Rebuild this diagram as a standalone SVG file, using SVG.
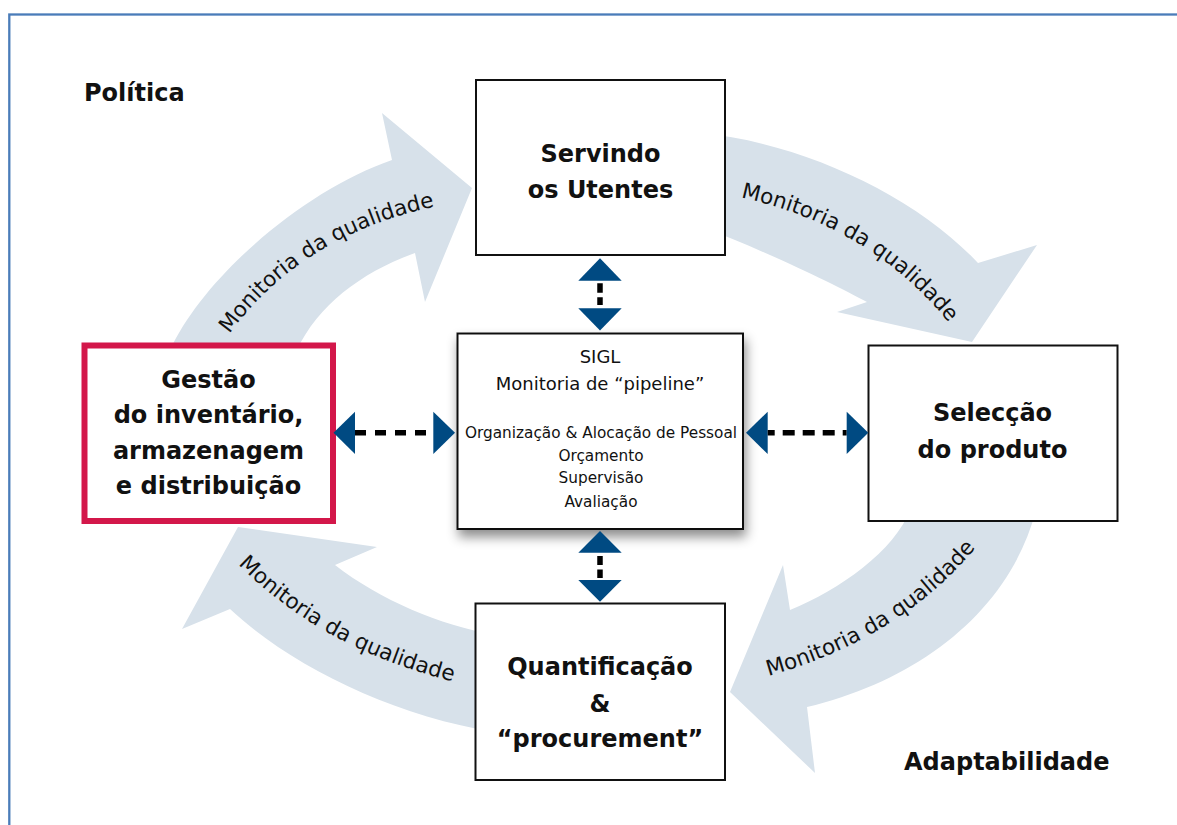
<svg xmlns="http://www.w3.org/2000/svg" width="1177" height="825" viewBox="0 0 1177 825">
<defs>
<style>
.band{fill:#d7e1ea}
.lbl{font-family:"DejaVu Sans",sans-serif;font-size:21.5px;fill:#111}
.box{fill:#fff;stroke:#111;stroke-width:2}
.bt{font-family:"DejaVu Sans",sans-serif;font-weight:bold;font-size:24px;fill:#111;text-anchor:middle}
.tt{font-family:"DejaVu Sans",sans-serif;font-weight:bold;font-size:24px;fill:#111}
.ct{font-family:"DejaVu Sans",sans-serif;font-size:15.3px;fill:#111;text-anchor:middle}
.ct2{font-family:"DejaVu Sans",sans-serif;font-size:18px;fill:#111;text-anchor:middle}
.tri{fill:#004a82}
.dash{stroke:#000;stroke-width:5.5;fill:none}
</style>
<filter id="sh" x="-20%" y="-20%" width="140%" height="160%">
<feDropShadow dx="2" dy="7" stdDeviation="6" flood-color="#000" flood-opacity="0.45"/>
</filter>
<path id="pTL" d="M 228,336 Q 300,235 437,206"/>
<path id="pTR" d="M 739,197 Q 870,225 950,324"/>
<path id="pBR" d="M 765,677 Q 900,640 978,545"/>
<path id="pBL" d="M 233,559 Q 320,650 460,683"/>
</defs>
<rect x="9.3" y="14.5" width="1200" height="900" fill="none" stroke="#4a7cb9" stroke-width="2.3"/>

<g id="cycle-arrows">
<path class="band" d="M 170,350 C 205,275 305,190 392,160 L 382,113 L 472,188 L 425,302 L 415,253 C 362,272 318,305 297,350 Z"/>
<path class="band" d="M 700,133 C 800,142 915,195 978,263 L 1037,245 L 972,342 L 837,312 L 867,302 C 835,285 775,255 700,226 Z"/>
<path class="band" d="M 1036,510 C 1010,610 920,680 807,707 L 815,773 L 730,692 L 783,565 L 790,610 C 840,590 895,550 910,510 Z"/>
<path class="band" d="M 495,635 C 440,625 380,600 335,565 L 377,547 L 238,527 L 182,629 L 230,609 C 290,665 390,715 495,732 Z"/>
<text class="lbl"><textPath href="#pTL" startOffset="50%" text-anchor="middle">Monitoria da qualidade</textPath></text>
<text class="lbl"><textPath href="#pTR" startOffset="50%" text-anchor="middle">Monitoria da qualidade</textPath></text>
<text class="lbl"><textPath href="#pBR" startOffset="50%" text-anchor="middle">Monitoria da qualidade</textPath></text>
<text class="lbl"><textPath href="#pBL" startOffset="50%" text-anchor="middle">Monitoria da qualidade</textPath></text>
</g>

<g id="label-politica"><text class="tt" x="84" y="101">Política</text></g>
<g id="label-adaptabilidade"><text class="tt" x="904" y="770">Adaptabilidade</text></g>

<g id="node-servindo">
<rect class="box" x="476" y="80" width="249" height="175"/>
<text class="bt" x="600.5" y="162">Servindo</text>
<text class="bt" x="600.5" y="198">os Utentes</text>
</g>

<g id="node-gestao">
<rect x="84.5" y="345.5" width="248.5" height="175.5" fill="#fff" stroke="#d3174a" stroke-width="6"/>
<text class="bt" x="208.5" y="388">Gestão</text>
<text class="bt" x="208.5" y="423.3">do inventário,</text>
<text class="bt" x="208.5" y="458.6">armazenagem</text>
<text class="bt" x="208.5" y="494">e distribuição</text>
</g>

<g id="node-centro">
<rect class="box" x="457.5" y="333.5" width="285.5" height="195.5" filter="url(#sh)"/>
<text class="ct2" x="600" y="363">SIGL</text>
<text class="ct2" x="600" y="390">Monitoria de “pipeline”</text>
<text class="ct" x="601" y="438">Organização &amp; Alocação de Pessoal</text>
<text class="ct" x="601" y="460.7">Orçamento</text>
<text class="ct" x="601" y="483.3">Supervisão</text>
<text class="ct" x="601" y="506.5">Avaliação</text>
</g>

<g id="node-seleccao">
<rect class="box" x="868.5" y="345.5" width="249" height="175.5"/>
<text class="bt" x="992.5" y="421">Selecção</text>
<text class="bt" x="992.5" y="457.5">do produto</text>
</g>

<g id="node-quantificacao">
<rect class="box" x="475.5" y="603.5" width="249.5" height="176.5"/>
<text class="bt" x="600" y="675">Quantificação</text>
<text class="bt" x="600" y="711.5">&amp;</text>
<text class="bt" x="600" y="746.5">“procurement”</text>
</g>

<g id="connectors">
<g id="conn-top">
<polygon class="tri" points="600,258.3 621.7,280.7 578.3,280.7"/>
<line class="dash" x1="600" y1="283.3" x2="600" y2="305" stroke-dasharray="9.4 4.6"/>
<polygon class="tri" points="578.3,308.3 621.7,308.3 600,330.5"/>
</g>
<g id="conn-bottom">
<polygon class="tri" points="600,531 621.7,552.7 578.3,552.7"/>
<line class="dash" x1="600" y1="556" x2="600" y2="578" stroke-dasharray="9 4.5"/>
<polygon class="tri" points="578.3,580 621.7,580 600,601.7"/>
</g>
<g id="conn-left">
<polygon class="tri" points="333.5,432.8 355,411.7 355,454"/>
<line class="dash" x1="355" y1="432.8" x2="433" y2="432.8" stroke-dasharray="11 9"/>
<polygon class="tri" points="433.3,411.7 455,432.8 433.3,454"/>
</g>
<g id="conn-right">
<polygon class="tri" points="746,432.8 767.7,411.7 767.7,454"/>
<line class="dash" x1="767.7" y1="432.8" x2="846.7" y2="432.8" stroke-dasharray="12 8" stroke-dashoffset="5"/>
<polygon class="tri" points="846.7,411.7 868.3,432.8 846.7,454"/>
</g>
</g>
</svg>
